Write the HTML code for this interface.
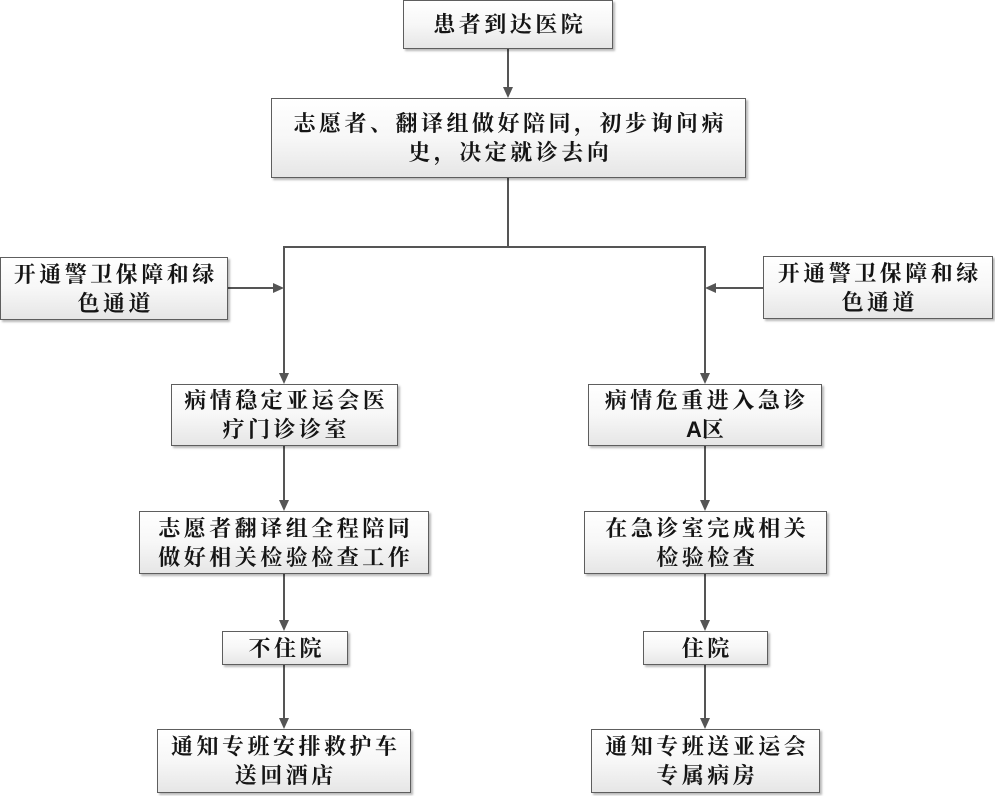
<!DOCTYPE html>
<html><head><meta charset="utf-8">
<style>
html,body{margin:0;padding:0;background:#fff;}
body{width:995px;height:796px;position:relative;overflow:hidden;}
.b{position:absolute;box-sizing:border-box;border:1.5px solid #5e5e5e;
background:linear-gradient(180deg,#ffffff 0%,#f7f7f7 50%,#e6e6e6 100%);
box-shadow:2px 2px 2px rgba(0,0,0,0.28);
display:flex;align-items:center;justify-content:center;text-align:center;
font-family:"Liberation Serif","Noto Serif CJK SC",serif;font-weight:bold;
font-size:22px;line-height:29px;color:#151515;letter-spacing:3.5px;}
.b span{display:block;margin-right:-3.5px;}
.a{font-family:"Liberation Sans",sans-serif;font-weight:bold;letter-spacing:0;}
svg{position:absolute;left:0;top:0;}
</style></head><body>
<svg width="995" height="796" viewBox="0 0 995 796">
<g stroke="#555" stroke-width="2" fill="none">
<line x1="508" y1="49" x2="508" y2="88"/>
<line x1="508" y1="178" x2="508" y2="247"/>
<line x1="284" y1="247" x2="705" y2="247"/>
<line x1="284" y1="246" x2="284" y2="374"/>
<line x1="705" y1="246" x2="705" y2="374"/>
<line x1="228" y1="288" x2="274" y2="288"/>
<line x1="763" y1="288" x2="715" y2="288"/>
<line x1="284" y1="446" x2="284" y2="501"/>
<line x1="284" y1="574" x2="284" y2="621"/>
<line x1="284" y1="665" x2="284" y2="719"/>
<line x1="705" y1="446" x2="705" y2="501"/>
<line x1="705" y1="574" x2="705" y2="621"/>
<line x1="705" y1="665" x2="705" y2="719"/>
</g>
<g fill="#555">
<polygon points="503,87 513,87 508,98"/>
<polygon points="279,373 289,373 284,384"/>
<polygon points="700,373 710,373 705,384"/>
<polygon points="273,283 273,293 284,288"/>
<polygon points="716,283 716,293 705,288"/>
<polygon points="279,500 289,500 284,511"/>
<polygon points="279,620 289,620 284,631"/>
<polygon points="279,718 289,718 284,729"/>
<polygon points="700,500 710,500 705,511"/>
<polygon points="700,620 710,620 705,631"/>
<polygon points="700,718 710,718 705,729"/>
</g>
</svg>

<div class="b" style="left:403px;top:0px;width:210px;height:49px;"><span>患者到达医院</span></div>
<div class="b" style="left:271px;top:98px;width:475px;height:80px;"><div><span>志愿者、翻译组做好陪同，初步询问病</span><span>史，决定就诊去向</span></div></div>

<div class="b" style="left:0px;top:257px;width:228px;height:63px;"><div><span>开通警卫保障和绿</span><span>色通道</span></div></div>
<div class="b" style="left:763px;top:256px;width:230px;height:63px;"><div><span>开通警卫保障和绿</span><span>色通道</span></div></div>

<div class="b" style="left:171px;top:384px;width:227px;height:62px;"><div><span>病情稳定亚运会医</span><span>疗门诊诊室</span></div></div>
<div class="b" style="left:588px;top:384px;width:234px;height:62px;"><div><span>病情危重进入急诊</span><span><b class="a">A</b>区</span></div></div>

<div class="b" style="left:139px;top:511px;width:290px;height:63px;"><div><span>志愿者翻译组全程陪同</span><span>做好相关检验检查工作</span></div></div>
<div class="b" style="left:584px;top:511px;width:243px;height:63px;"><div><span>在急诊室完成相关</span><span>检验检查</span></div></div>

<div class="b" style="left:222px;top:631px;width:126px;height:34px;"><span>不住院</span></div>
<div class="b" style="left:643px;top:631px;width:125px;height:34px;"><span>住院</span></div>

<div class="b" style="left:157px;top:729px;width:254px;height:64px;"><div><span>通知专班安排救护车</span><span>送回酒店</span></div></div>
<div class="b" style="left:591px;top:729px;width:229px;height:64px;"><div><span>通知专班送亚运会</span><span>专属病房</span></div></div>
</body></html>
